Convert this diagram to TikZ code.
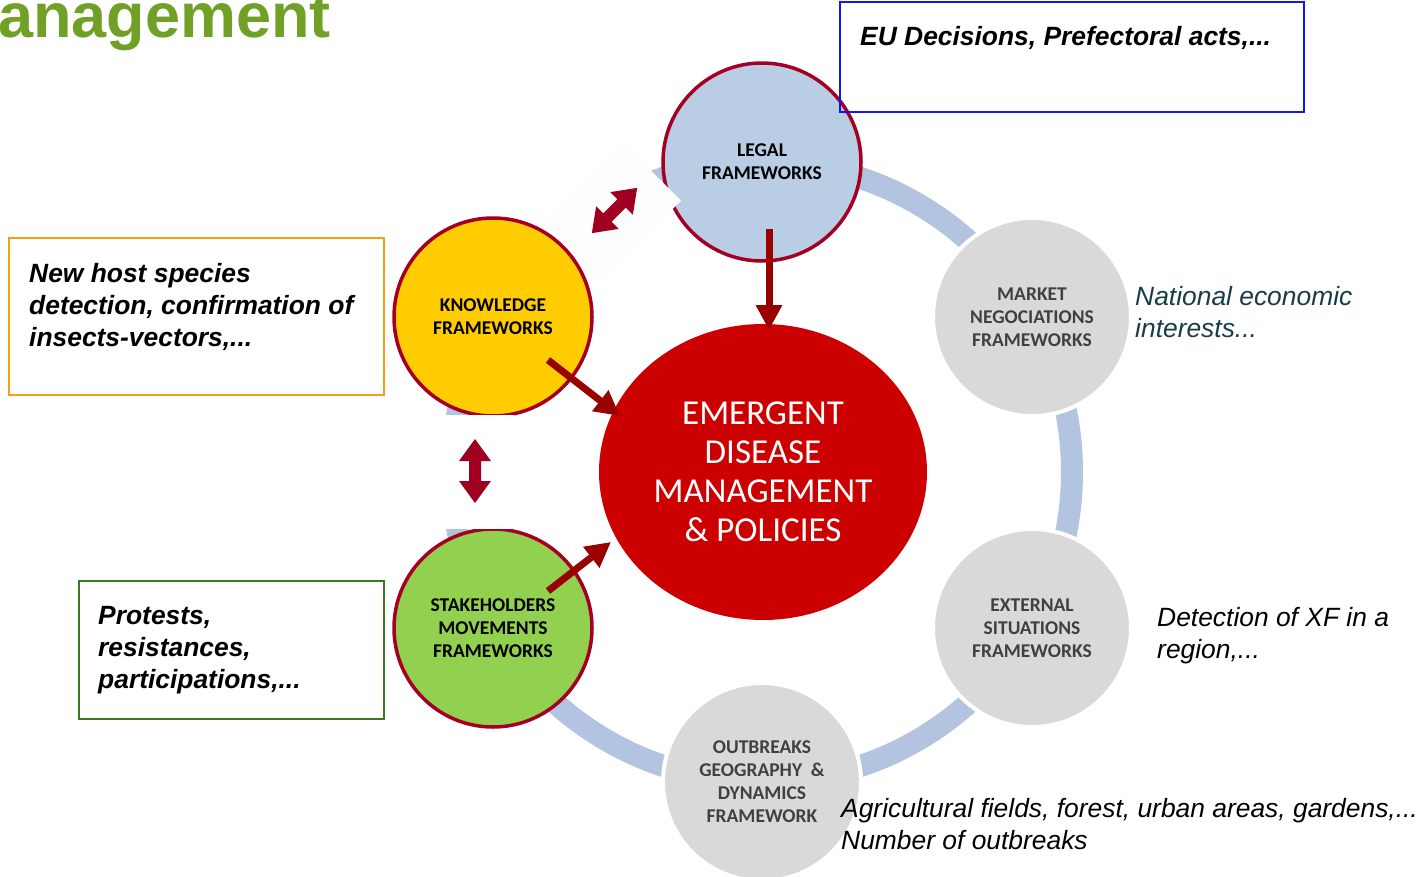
\documentclass[tikz,border=0pt]{standalone}
\usepackage{fontspec}
\setmainfont{Liberation Sans}
\newfontfamily\calib{Carlito}
\usetikzlibrary{shapes.geometric,arrows.meta}
\definecolor{ringblue}{RGB}{178,196,224}
\definecolor{legalfill}{RGB}{185,205,229}
\definecolor{knowfill}{RGB}{255,204,0}
\definecolor{stakefill}{RGB}{146,208,80}
\definecolor{grayfill}{RGB}{217,217,217}
\definecolor{rimred}{RGB}{165,0,33}
\definecolor{cenred}{RGB}{204,0,0}
\definecolor{arrred}{RGB}{153,0,0}
\definecolor{dblred}{RGB}{160,0,32}
\definecolor{titlegreen}{RGB}{112,160,38}
\definecolor{bluebox}{RGB}{20,20,240}
\definecolor{orangebox}{RGB}{245,160,20}
\definecolor{greenbox}{RGB}{60,120,30}
\definecolor{tealtext}{RGB}{24,60,72}
\definecolor{graytext}{RGB}{64,64,64}
\definecolor{patchwhite}{RGB}{253,253,253}
\tikzset{
  colcirc/.style={circle, draw=rimred, line width=3.5pt, minimum size=198pt, inner sep=0pt,
    font=\calib\bfseries\fontsize{19.5}{23}\selectfont, align=center, text=black},
  graycirc/.style={circle, fill=grayfill, draw=white, line width=4pt, minimum size=198pt, inner sep=0pt,
    font=\calib\bfseries\fontsize{19.5}{23}\selectfont, align=center, text=graytext},
  callbox/.style={line width=1.5pt, anchor=north west, inner sep=0pt},
  boldtxt/.style={anchor=north west, inner sep=0pt, align=left, font=\bfseries\itshape\fontsize{26.4}{32}\selectfont},
  plaintxt/.style={anchor=north west, inner sep=0pt, align=left, font=\itshape\fontsize{26.4}{32}\selectfont},
  arr/.style={draw=arrred, line width=7pt, -{Triangle[width=25pt,length=25pt]}},
  dblarrow/.pic={\fill[dblred] (-32,0) -- (-10,16) -- (-10,6) -- (10,6) -- (10,16) -- (32,0)
      -- (10,-16) -- (10,-6) -- (-10,-6) -- (-10,-16) -- cycle;}
}
\begin{document}
\begin{tikzpicture}[x=1pt,y=-1pt]
\useasboundingbox (0,0) rectangle (1422,876);
% title fragment
\node[anchor=base east, inner sep=0pt, font=\bfseries\fontsize{63}{63}\selectfont, text=titlegreen] (title) at (331,37) {anagement};
% ring
\draw[ringblue, line width=22pt] (762,472) circle[radius=310pt];
% legal circle, then the patch over it
\node[colcirc, fill=legalfill] (legal) at (762,162) {LEGAL\\FRAMEWORKS};
\node[fill=patchwhite, rotate=45, minimum width=118pt, minimum height=80pt, inner sep=0pt] (patch) at (611,214) {};
% other circles
\node[colcirc, fill=knowfill] (know) at (493,317) {KNOWLEDGE\\FRAMEWORKS};
\node[colcirc, fill=stakefill] (stake) at (493,628) {STAKEHOLDERS\\MOVEMENTS\\FRAMEWORKS};
\node[graycirc] (market) at (1032,317) {MARKET\\NEGOCIATIONS\\FRAMEWORKS};
\node[graycirc] (ext) at (1032,628) {EXTERNAL\\SITUATIONS\\FRAMEWORKS};
\node[graycirc] (outb) at (762,782) {OUTBREAKS\\GEOGRAPHY \ \&\\DYNAMICS\\FRAMEWORK};
% white patch between knowledge and stakeholders
\fill[white] (440,415) rectangle (514,529);
% central ellipse
\node[ellipse, fill=cenred, minimum width=328pt, minimum height=296pt, inner sep=0pt,
  font=\calib\fontsize{35}{39}\selectfont, text=white, align=center] (cen) at (763,472)
  {EMERGENT\\DISEASE\\MANAGEMENT\\\& POLICIES};
% double arrows
\pic[rotate=90] at (475,471) {dblarrow};
\pic[rotate=45] at (614.5,210.5) {dblarrow};
% single arrows
\coordinate (la) at (769,229);
\coordinate (lb) at (769,330);
\coordinate (ka) at (548,360);
\coordinate (kb) at (620,416);
\coordinate (sa) at (548,591);
\coordinate (sb) at (611,542);
\draw[arr] (la) -- (lb);
\draw[arr] (ka) -- (kb);
\draw[arr] (sa) -- (sb);
% callout boxes
\node[callbox, draw=bluebox, minimum width=464pt, minimum height=110pt] (eubox) at (839,1) {};
\node[boldtxt] (eutxt) at (860,22.6) {\strut EU Decisions, Prefectoral acts,...};
\node[callbox, draw=orangebox, minimum width=375pt, minimum height=157pt] (hostbox) at (8,237) {};
\node[boldtxt] (hosttxt) at (29,259.6) {\strut New host species\\\strut detection, confirmation of\\\strut insects-vectors,...};
\node[callbox, draw=greenbox, minimum width=305pt, minimum height=138pt] (protbox) at (78,580) {};
\node[boldtxt] (prottxt) at (98,601.6) {\strut Protests,\\\strut resistances,\\\strut participations,...};
% free texts
\node[plaintxt, text=tealtext] (nat) at (1135,282.6) {\strut National economic\\\strut interests...};
\node[plaintxt] (det) at (1157,603.6) {\strut Detection of XF in a\\\strut region,...};
\node[plaintxt] (agri) at (841,794.6) {\strut Agricultural fields, forest, urban areas, gardens,...\\\strut Number of outbreaks};
\end{tikzpicture}
\end{document}
